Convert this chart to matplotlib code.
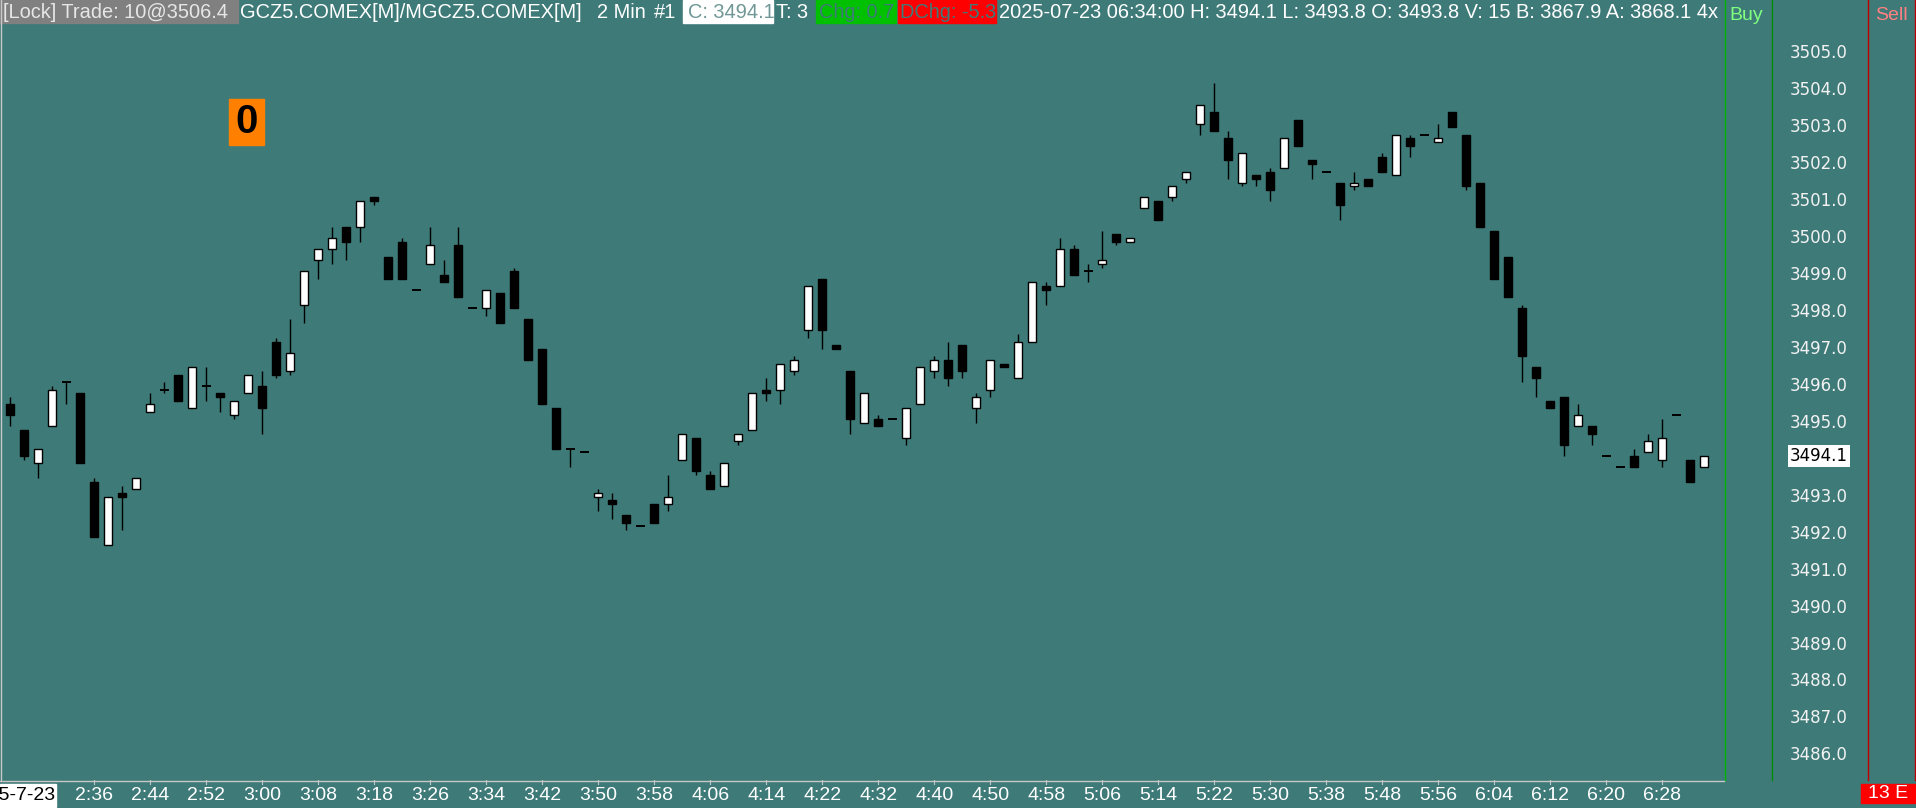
"""GCZ5/MGCZ5 2 Min candle chart, 2025-07-23 (Sierra-style dark teal screen)."""

import matplotlib

matplotlib.use("Agg")
import matplotlib.pyplot as plt  # noqa: E402
from matplotlib.lines import Line2D  # noqa: E402
from matplotlib.patches import Rectangle  # noqa: E402
from matplotlib.transforms import blended_transform_factory  # noqa: E402

# --- data -------------------------------------------------------------------
opens = [
    3495.5, 3494.8, 3493.9, 3494.9, 3496.1, 3495.8, 3493.4, 3491.7, 3493.1, 3493.2,
    3495.3, 3495.9, 3496.3, 3495.4, 3496.0, 3495.8, 3495.2, 3495.8, 3496.0, 3497.2,
    3496.4, 3498.2, 3499.4, 3499.7, 3500.3, 3500.3, 3501.1, 3499.5, 3499.9, 3498.6,
    3499.3, 3499.0, 3499.8, 3498.1, 3498.1, 3498.5, 3499.1, 3497.8, 3497.0, 3495.4,
    3494.3, 3494.2, 3493.0, 3492.9, 3492.5, 3492.2, 3492.8, 3492.8, 3494.0, 3494.6,
    3493.6, 3493.3, 3494.5, 3494.8, 3495.9, 3495.9, 3496.4, 3497.5, 3498.9, 3497.1,
    3496.4, 3495.0, 3495.1, 3495.1, 3494.6, 3495.5, 3496.4, 3496.7, 3497.1, 3495.4,
    3495.9, 3496.6, 3496.2, 3497.2, 3498.7, 3498.7, 3499.7, 3499.1, 3499.3, 3500.1,
    3499.9, 3500.8, 3501.0, 3501.1, 3501.6, 3503.1, 3503.4, 3502.7, 3501.5, 3501.7,
    3501.8, 3501.9, 3503.2, 3502.1, 3501.8, 3501.5, 3501.4, 3501.6, 3502.2, 3501.7,
    3502.7, 3502.8, 3502.6, 3503.4, 3502.8, 3501.5, 3500.2, 3499.5, 3498.1, 3496.5,
    3495.6, 3495.7, 3494.9, 3494.9, 3494.1, 3493.8, 3494.1, 3494.2, 3494.0, 3495.2,
    3494.0, 3493.8,
]
highs = [
    3495.7, 3494.8, 3494.3, 3496.0, 3496.1, 3495.8, 3493.5, 3493.0, 3493.3, 3493.5,
    3495.8, 3496.1, 3496.3, 3496.5, 3496.5, 3495.8, 3495.6, 3496.3, 3496.4, 3497.3,
    3497.8, 3499.1, 3499.7, 3500.3, 3500.3, 3501.0, 3501.1, 3499.5, 3500.0, 3498.6,
    3500.3, 3499.4, 3500.3, 3498.1, 3498.6, 3498.5, 3499.2, 3497.8, 3497.0, 3495.4,
    3494.3, 3494.2, 3493.2, 3493.1, 3492.5, 3492.2, 3492.8, 3493.6, 3494.7, 3494.6,
    3493.7, 3493.9, 3494.7, 3495.8, 3496.2, 3496.6, 3496.8, 3498.7, 3498.9, 3497.1,
    3496.4, 3495.8, 3495.2, 3495.1, 3495.4, 3496.5, 3496.8, 3497.2, 3497.1, 3495.8,
    3496.7, 3496.6, 3497.4, 3498.8, 3498.8, 3500.0, 3499.8, 3499.3, 3500.2, 3500.1,
    3500.0, 3501.1, 3501.0, 3501.4, 3501.8, 3503.6, 3504.2, 3502.9, 3502.3, 3501.7,
    3501.9, 3502.7, 3503.2, 3502.1, 3501.8, 3501.5, 3501.8, 3501.6, 3502.3, 3502.8,
    3502.8, 3502.8, 3503.1, 3503.4, 3502.8, 3501.5, 3500.2, 3499.5, 3498.2, 3496.5,
    3495.6, 3495.7, 3495.5, 3494.9, 3494.1, 3493.8, 3494.3, 3494.7, 3495.1, 3495.2,
    3494.0, 3494.1,
]
lows = [
    3494.9, 3494.0, 3493.5, 3494.9, 3495.5, 3493.9, 3491.9, 3491.7, 3492.1, 3493.2,
    3495.3, 3495.8, 3495.6, 3495.4, 3495.6, 3495.3, 3495.1, 3495.8, 3494.7, 3496.2,
    3496.3, 3497.7, 3498.9, 3499.3, 3499.4, 3499.9, 3500.9, 3498.9, 3498.9, 3498.6,
    3499.3, 3498.8, 3498.4, 3498.1, 3497.9, 3497.7, 3498.1, 3496.7, 3495.5, 3494.3,
    3493.8, 3494.2, 3492.6, 3492.4, 3492.1, 3492.2, 3492.3, 3492.6, 3494.0, 3493.6,
    3493.2, 3493.3, 3494.4, 3494.8, 3495.6, 3495.5, 3496.3, 3497.3, 3497.0, 3497.0,
    3494.7, 3495.0, 3494.9, 3495.1, 3494.4, 3495.5, 3496.2, 3496.0, 3496.2, 3495.0,
    3495.7, 3496.5, 3496.2, 3497.2, 3498.2, 3498.7, 3499.0, 3498.8, 3499.2, 3499.8,
    3499.9, 3500.8, 3500.5, 3501.0, 3501.5, 3502.8, 3502.9, 3501.6, 3501.4, 3501.4,
    3501.0, 3501.9, 3502.5, 3501.6, 3501.8, 3500.5, 3501.3, 3501.4, 3501.8, 3501.7,
    3502.2, 3502.8, 3502.6, 3503.0, 3501.3, 3500.3, 3498.9, 3498.4, 3496.1, 3495.7,
    3495.4, 3494.1, 3494.9, 3494.4, 3494.1, 3493.8, 3493.8, 3494.2, 3493.8, 3495.2,
    3493.4, 3493.8,
]
closes = [
    3495.2, 3494.1, 3494.3, 3495.9, 3496.1, 3493.9, 3491.9, 3493.0, 3493.0, 3493.5,
    3495.5, 3495.9, 3495.6, 3496.5, 3496.0, 3495.7, 3495.6, 3496.3, 3495.4, 3496.3,
    3496.9, 3499.1, 3499.7, 3500.0, 3499.9, 3501.0, 3501.0, 3498.9, 3498.9, 3498.6,
    3499.8, 3498.8, 3498.4, 3498.1, 3498.6, 3497.7, 3498.1, 3496.7, 3495.5, 3494.3,
    3494.3, 3494.2, 3493.1, 3492.8, 3492.3, 3492.2, 3492.3, 3493.0, 3494.7, 3493.7,
    3493.2, 3493.9, 3494.7, 3495.8, 3495.8, 3496.6, 3496.7, 3498.7, 3497.5, 3497.0,
    3495.1, 3495.8, 3494.9, 3495.1, 3495.4, 3496.5, 3496.7, 3496.2, 3496.4, 3495.7,
    3496.7, 3496.5, 3497.2, 3498.8, 3498.6, 3499.7, 3499.0, 3499.1, 3499.4, 3499.9,
    3500.0, 3501.1, 3500.5, 3501.4, 3501.8, 3503.6, 3502.9, 3502.1, 3502.3, 3501.6,
    3501.3, 3502.7, 3502.5, 3502.0, 3501.8, 3500.9, 3501.5, 3501.4, 3501.8, 3502.8,
    3502.5, 3502.8, 3502.7, 3503.0, 3501.4, 3500.3, 3498.9, 3498.4, 3496.8, 3496.2,
    3495.4, 3494.4, 3495.2, 3494.7, 3494.1, 3493.8, 3493.8, 3494.5, 3494.6, 3495.2,
    3493.4, 3494.1,
]
time_labels = [
    "2:36", "2:44", "2:52", "3:00", "3:08", "3:18", "3:26", "3:34", "3:42", "3:50",
    "3:58", "4:06", "4:14", "4:22", "4:32", "4:40", "4:50", "4:58", "5:06", "5:14",
    "5:22", "5:30", "5:38", "5:48", "5:56", "6:04", "6:12", "6:20", "6:28",
]
date_label = "2025-7-23"
price_ticks = [p for p in range(3486, 3506) if p != 3494]
last_price = 3494.1

header = [
    # (texte, x px, couleur texte)
    ("[Lock] Trade: 10@3506.4", 3, "#e6e6e6"),
    ("GCZ5.COMEX[M]/MGCZ5.COMEX[M]", 240, "white"),
    ("2 Min", 597, "white"),
    ("#1", 654, "white"),
    ("C: 3494.1", 688, "#6f9795"),
    ("T: 3", 776, "white"),
    ("Chg: 0.7", 819, "#3e7a78"),
    ("DChg: -5.3", 900, "#3e7a78"),
    ("2025-07-23 06:34:00 H: 3494.1 L: 3493.8 O: 3493.8 V: 15 "
     "B: 3867.9 A: 3868.1 4x", 999, "white"),
]
# fonds colores de l'en-tete: (x0, x1, couleur) en px
header_boxes = [(0, 237.6, "#808080"), (683, 773, "white"),
                (816, 896, "#00c000"), (898, 996, "#ff0000")]

BG = "#3e7a78"
W, H = 1916, 808
PX_PER_PT = 36.95  # pixels par point de prix


def fx(px):
    return px / W


def fy(py):
    return 1 - py / H


fig = plt.figure(figsize=(W / 100, H / 100), dpi=100, facecolor=BG)
ax = fig.add_axes([0, fy(780), fx(1724), 780 / H])
ax.set_facecolor(BG)
ax.set_xlim(-10.3 / 14, -10.3 / 14 + 1724 / 14)
ax.set_ylim(3505 - (780 - 53.3) / PX_PER_PT, 3505 + 53.3 / PX_PER_PT)
ax.axis("off")

n = len(opens)
xs = list(range(n))
ax.vlines(xs, lows, highs, color="black", lw=1.0, zorder=2)

bw = 0.58
for x, o, c in zip(xs, opens, closes):
    if abs(c - o) < 1e-9:
        ax.hlines(o, x - bw / 2 - 0.03, x + bw / 2 + 0.03, color="black", lw=1.4, zorder=3)
    elif c > o:
        ax.bar(x, c - o, bottom=o, width=bw, color="white", edgecolor="black",
               linewidth=1.0, zorder=3)
    else:
        ax.bar(x, o - c, bottom=c, width=bw, color="black", edgecolor="black",
               linewidth=1.0, zorder=3)

# axe du temps
tr_x = blended_transform_factory(ax.transData, fig.transFigure)
tick_pos = list(range(6, n, 4))[: len(time_labels)]
for pos, lab in zip(tick_pos, time_labels):
    ax.text(pos, fy(796), lab, transform=tr_x, ha="center", va="center",
            color="white", fontsize=14, family="Liberation Sans")
    fig.add_artist(Line2D([pos, pos], [fy(780), fy(784)], color="#c8c8c8", lw=0.8,
                          transform=tr_x))
fig.add_artist(Rectangle((0, fy(807)), fx(56), 23 / H, color="white"))
fig.text(fx(55), fy(796), date_label, ha="right", va="center", color="black",
         fontsize=14, family="Liberation Sans")

# echelle de prix
tr_y = blended_transform_factory(fig.transFigure, ax.transData)
for p in price_ticks:
    fig.text(fx(1819), p, f"{p:.1f}", transform=tr_y, ha="center", va="center",
             color="#f2f2f2", fontsize=12, family="DejaVu Sans")
fig.text(fx(1819), last_price, f"{last_price:.1f}", transform=tr_y, ha="center",
         va="center", color="black", fontsize=12, family="DejaVu Sans",
         bbox=dict(boxstyle="square,pad=0.1", fc="white", ec="none"))

# lignes de separation
for xpx, col in [(1724.5, "#00b400"), (1771.5, "#008c00"),
                 (1867.5, "#c00000"), (1914.5, "#c00000")]:
    fig.add_artist(Line2D([fx(xpx)] * 2, [fy(0), fy(780)], color=col, lw=1.0))
fig.add_artist(Line2D([0, fx(1724)], [fy(780.5)] * 2, color="#c8c8c8", lw=1.0))
fig.add_artist(Line2D([fx(0.5)] * 2, [fy(0), fy(780)], color="#c8c8c8", lw=1.0))

fig.text(fx(1729), fy(15), "Buy", ha="left", va="center", color="#80ff80",
         fontsize=14, family="Liberation Sans")
fig.text(fx(1875), fy(15), "Sell", ha="left", va="center", color="#ff8080",
         fontsize=14, family="Liberation Sans")

# bandeau d'en-tete
for x0, x1, col in header_boxes:
    ax.add_patch(Rectangle((fx(x0), fy(22.7)), fx(x1 - x0), 22.7 / H, color=col,
                           transform=fig.transFigure, zorder=9, clip_on=False))
for txt, xpx, col in header:
    ax.text(fx(xpx), fy(12), txt, transform=fig.transFigure, ha="left",
            va="center", color=col, fontsize=14.4, family="Liberation Sans",
            clip_on=True, zorder=10)

# compteur orange
fig.add_artist(Rectangle((fx(229), fy(145)), fx(35), 46 / H, color="#ff8000"))
fig.text(fx(246.5), fy(122), "0", ha="center", va="center", color="black",
         fontsize=29, fontweight="bold", family="Liberation Sans")

# badge en bas a droite
fig.add_artist(Rectangle((fx(1861), fy(803)), fx(54), 19 / H, color="#ff0000"))
fig.text(fx(1888), fy(794), "13 E", ha="center", va="center", color="white",
         fontsize=14, family="Liberation Sans")

fig.savefig("out.png", dpi=100, facecolor=BG)
